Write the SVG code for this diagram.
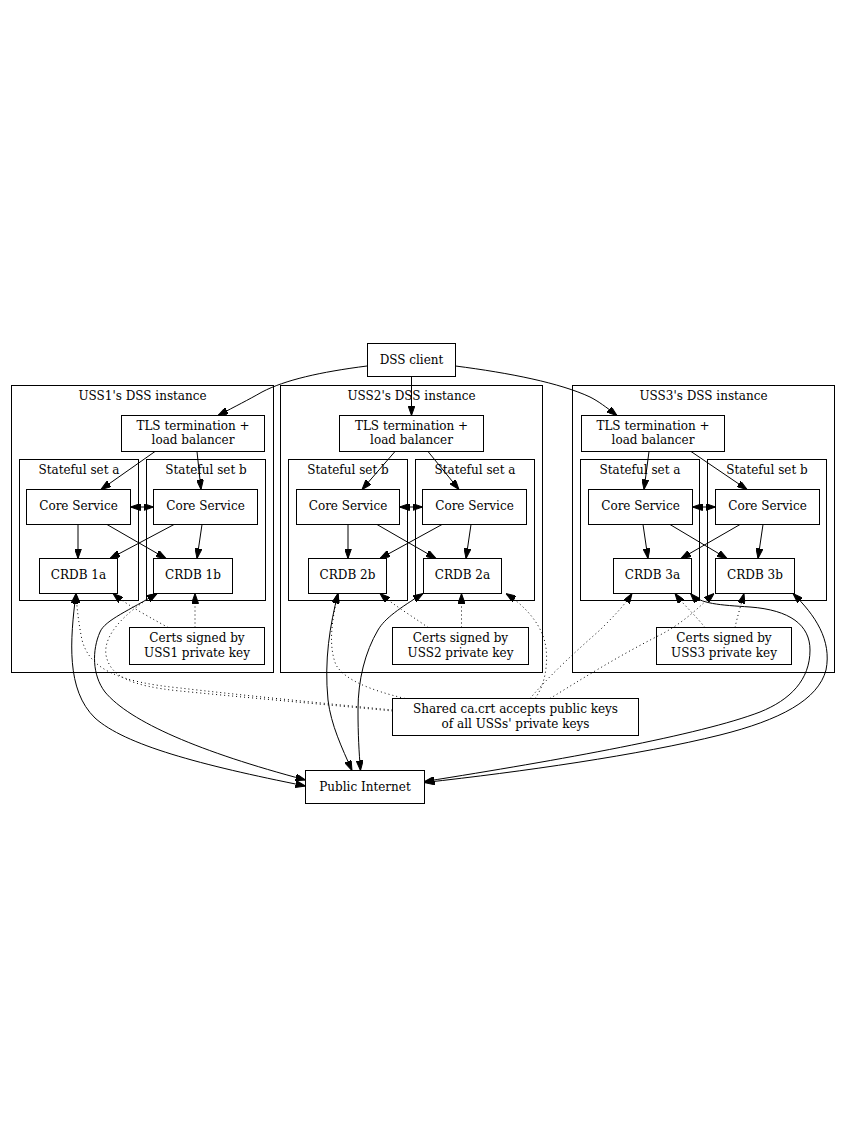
<svg xmlns="http://www.w3.org/2000/svg" width="846" height="1148" viewBox="0 0 846 1148">
<style>
  text { font-family: "DejaVu Serif", "Liberation Serif", serif; font-size: 12px; fill: #000; text-anchor: middle; }
  .box { fill: none; stroke: #000; stroke-width: 1; }
  .cl { fill: none; stroke: #000; stroke-width: 1; }
  .e { fill: none; stroke: #000; stroke-width: 1; marker-end: url(#ah); }
  .bi { marker-start: url(#ah); }
  .dot { stroke-dasharray: 1 3; }
</style>
<defs>
  <marker id="ah" viewBox="0 0 10 7" refX="10" refY="3.5" markerWidth="10" markerHeight="7" markerUnits="userSpaceOnUse" orient="auto-start-reverse">
    <path d="M0,0 L10,3.5 L0,7 z" fill="#000" stroke="#000" stroke-width="1" stroke-dasharray="none"/>
  </marker>
</defs>
<rect width="846" height="1148" fill="#fff"/>

<g id="cluster_uss1">
  <rect class="cl" x="11.5" y="385.5" width="262" height="287"/>
  <text x="142.5" y="400">USS1's DSS instance</text>
</g>
<g id="cluster_uss1_a">
  <rect class="cl" x="19.5" y="459.5" width="119" height="141"/>
  <text x="79" y="473.5">Stateful set a</text>
</g>
<g id="cluster_uss1_b">
  <rect class="cl" x="146.5" y="459.5" width="119" height="141"/>
  <text x="206" y="473.5">Stateful set b</text>
</g>
<g id="cluster_uss2">
  <rect class="cl" x="280.5" y="385.5" width="262" height="287"/>
  <text x="411.5" y="400">USS2's DSS instance</text>
</g>
<g id="cluster_uss2_b">
  <rect class="cl" x="288.5" y="459.5" width="119" height="141"/>
  <text x="348" y="473.5">Stateful set b</text>
</g>
<g id="cluster_uss2_a">
  <rect class="cl" x="415.5" y="459.5" width="119" height="141"/>
  <text x="475" y="473.5">Stateful set a</text>
</g>
<g id="cluster_uss3">
  <rect class="cl" x="572.5" y="385.5" width="262" height="287"/>
  <text x="703.5" y="400">USS3's DSS instance</text>
</g>
<g id="cluster_uss3_a">
  <rect class="cl" x="580.5" y="459.5" width="119" height="141"/>
  <text x="640" y="473.5">Stateful set a</text>
</g>
<g id="cluster_uss3_b">
  <rect class="cl" x="707.5" y="459.5" width="119" height="141"/>
  <text x="767" y="473.5">Stateful set b</text>
</g>

<g id="dss_client">
  <rect class="box" x="367.5" y="343.5" width="88" height="33"/>
  <text x="411.5" y="363.5">DSS client</text>
</g>
<g id="tls1">
  <rect class="box" x="121.5" y="415.5" width="143" height="36"/>
  <text x="193" y="429.5">TLS termination +</text>
  <text x="193" y="443.5">load balancer</text>
</g>
<g id="core1a">
  <rect class="box" x="26.5" y="489.5" width="104" height="35"/>
  <text x="78.5" y="510">Core Service</text>
</g>
<g id="core1b">
  <rect class="box" x="153.5" y="489.5" width="104" height="35"/>
  <text x="205.5" y="510">Core Service</text>
</g>
<g id="crdb1a">
  <rect class="box" x="39.5" y="558.5" width="78" height="35"/>
  <text x="78.5" y="579">CRDB 1a</text>
</g>
<g id="crdb1b">
  <rect class="box" x="153.5" y="558.5" width="79" height="35"/>
  <text x="193" y="579">CRDB 1b</text>
</g>
<g id="certs1">
  <rect class="box" x="129.5" y="627.5" width="135" height="37"/>
  <text x="197" y="642">Certs signed by</text>
  <text x="197" y="656.5">USS1 private key</text>
</g>

<g id="tls2">
  <rect class="box" x="339.5" y="415.5" width="144" height="36"/>
  <text x="411.5" y="429.5">TLS termination +</text>
  <text x="411.5" y="443.5">load balancer</text>
</g>
<g id="core2b">
  <rect class="box" x="296.5" y="489.5" width="103" height="35"/>
  <text x="348" y="510">Core Service</text>
</g>
<g id="core2a">
  <rect class="box" x="422.5" y="489.5" width="104" height="35"/>
  <text x="474.5" y="510">Core Service</text>
</g>
<g id="crdb2b">
  <rect class="box" x="308.5" y="558.5" width="78" height="35"/>
  <text x="347.5" y="579">CRDB 2b</text>
</g>
<g id="crdb2a">
  <rect class="box" x="423.5" y="558.5" width="78" height="35"/>
  <text x="462.5" y="579">CRDB 2a</text>
</g>
<g id="certs2">
  <rect class="box" x="392.5" y="627.5" width="136" height="37"/>
  <text x="460.5" y="642">Certs signed by</text>
  <text x="460.5" y="656.5">USS2 private key</text>
</g>

<g id="tls3">
  <rect class="box" x="581.5" y="415.5" width="143" height="36"/>
  <text x="653" y="429.5">TLS termination +</text>
  <text x="653" y="443.5">load balancer</text>
</g>
<g id="core3a">
  <rect class="box" x="588.5" y="489.5" width="104" height="35"/>
  <text x="640.5" y="510">Core Service</text>
</g>
<g id="core3b">
  <rect class="box" x="715.5" y="489.5" width="104" height="35"/>
  <text x="767.5" y="510">Core Service</text>
</g>
<g id="crdb3a">
  <rect class="box" x="613.5" y="558.5" width="78" height="35"/>
  <text x="652.5" y="579">CRDB 3a</text>
</g>
<g id="crdb3b">
  <rect class="box" x="715.5" y="558.5" width="79" height="35"/>
  <text x="755" y="579">CRDB 3b</text>
</g>
<g id="certs3">
  <rect class="box" x="656.5" y="627.5" width="135" height="37"/>
  <text x="724" y="642">Certs signed by</text>
  <text x="724" y="656.5">USS3 private key</text>
</g>

<g id="shared_ca">
  <rect class="box" x="392.5" y="698.5" width="246" height="37"/>
  <text x="515.5" y="713">Shared ca.crt accepts public keys</text>
  <text x="515.5" y="727.5">of all USSs' private keys</text>
</g>
<g id="public_internet">
  <rect class="box" x="305.5" y="770.5" width="119" height="33"/>
  <text x="365" y="790.5">Public Internet</text>
</g>

<g id="connectors">
  <!-- DSS client to TLS -->
  <path class="e" d="M367,366 C320,372 285,380 262,392 C248,400 236,406 218,415.5"/>
  <path class="e" d="M411.5,376.5 L411.5,415.5"/>
  <path class="e" d="M455.5,366 C510,373 560,383 590,397 C598,401 606,407 617,415.5"/>

  <!-- USS1 internal -->
  <path class="e" d="M155,451.5 L101,489.5"/>
  <path class="e" d="M197,451.5 L201,489.5"/>
  <path class="e bi" d="M130.5,507 L153.5,507"/>
  <path class="e" d="M78,524.5 L78,558.5"/>
  <path class="e" d="M107,524.5 L166,558.5"/>
  <path class="e" d="M174,524.5 L110,558.5"/>
  <path class="e" d="M202,524.5 L197,558.5"/>

  <!-- USS2 internal -->
  <path class="e" d="M395,451.5 L362,489.5"/>
  <path class="e" d="M428,451.5 L459,489.5"/>
  <path class="e bi" d="M399.5,507 L422.5,507"/>
  <path class="e" d="M348,524.5 L348,558.5"/>
  <path class="e" d="M377,524.5 L436,558.5"/>
  <path class="e" d="M442,524.5 L380,558.5"/>
  <path class="e" d="M471,524.5 L466,558.5"/>

  <!-- USS3 internal -->
  <path class="e" d="M649,451.5 L644,489.5"/>
  <path class="e" d="M691,451.5 L747,489.5"/>
  <path class="e bi" d="M692.5,507 L715.5,507"/>
  <path class="e" d="M643,524.5 L648,558.5"/>
  <path class="e" d="M670,524.5 L727,558.5"/>
  <path class="e" d="M740,524.5 L681,558.5"/>
  <path class="e" d="M763,524.5 L758,558.5"/>

  <!-- CRDB <-> Public Internet -->
  <path class="e bi" d="M76,593.5 C70,640 66,690 95,718 C125,745 200,765 305.5,786"/>
  <path class="e bi" d="M157,593.5 C130,610 105,620 100,632 C92,650 92,675 105,692 C130,722 200,752 305.5,780"/>
  <path class="e bi" d="M338,593.5 C330,625 324,660 328,700 C331,725 342,748 352,770.5"/>
  <path class="e bi" d="M423,593.5 C400,608 385,618 378,630 C365,652 358,680 358,710 C358,735 359,752 360.5,770.5"/>
  <path class="e bi" d="M690.5,593.5 C700,604 720,605 750,607 C790,610 810,625 810,650 C810,680 790,700 760,712 C700,735 560,760 424.5,781.5"/>
  <path class="e bi" d="M793,593.5 C815,615 832,640 826,670 C818,700 780,720 720,735 C640,755 520,772 424.5,782.5"/>

  <!-- Certs -> CRDB (dotted) -->
  <path class="e dot" d="M168,627.5 C155,620 128,606 113,593.5"/>
  <path class="e dot" d="M195,627.5 L195,593.5"/>
  <path class="e dot" d="M428,627.5 C415,618 392,604 380,593.5"/>
  <path class="e dot" d="M461.5,627.5 L461.5,593.5"/>
  <path class="e dot" d="M705,627.5 C695,615 682,603 675,593.5"/>
  <path class="e dot" d="M735,627.5 C737,618 741,605 744,593.5"/>

  <!-- Shared ca.crt -> CRDB (dotted) -->
  <path class="e dot" d="M392.5,710 C320,703 240,695 180,688 C120,682 90,670 82,640 C79,625 77,610 76,593.5"/>
  <path class="e dot" d="M392.5,711 C320,704 240,697 180,691 C130,686 110,676 106,655 C103,635 125,612 157,593.5"/>
  <path class="e dot" d="M405,698.5 C370,690 345,680 336,665 C328,645 332,620 338,593.5"/>
  <path class="e dot" d="M535,698.5 C545,685 548,665 546,648 C543,625 525,606 506,593.5"/>
  <path class="e dot" d="M530,698.5 C550,675 575,652 600,630 C612,618 624,606 632,593.5"/>
  <path class="e dot" d="M550,698.5 C580,680 620,655 660,635 C685,622 700,606 714,593.5"/>
</g>
</svg>
